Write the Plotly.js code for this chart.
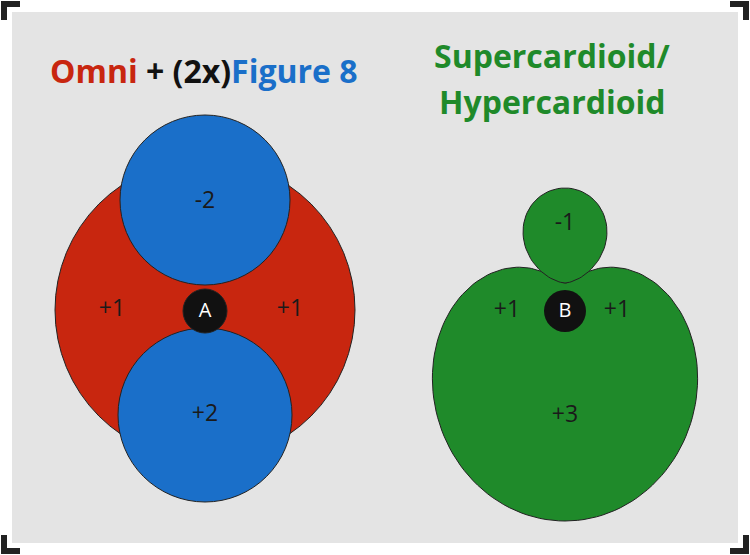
<!DOCTYPE html>
<html>
<head>
<script src="https://cdn.plot.ly/plotly-3.0.1.min.js"></script>
<style>body{margin:0}#chart{width:750px;height:555px}</style>
</head>
<body>
<div id="chart"></div>
<script>
// circles: [cx, cy, r, colour]
var circleX = [205, 205, 205, 205];
var circleY = [310, 200, 415, 311];
var circleR = [150, 85, 87, 22];
var circleC = ['#c8260f', '#1a6fc9', '#1a6fc9', '#111111'];

var labelText = ['-2', '+1', '+1', '+2', '-1', '+1', '+1', '+3'];
var labelX = [205, 112, 290, 205, 565, 507, 617, 565];
var labelY = [202, 310, 310, 415, 224, 311, 311, 416];

// big lobe of the supercardioid: r = a + b cos(t) + c cos(2t), t from straight down
var lobeA = 125.5, lobeB = 91, lobeC = -6.5, squeeze = 0.87;
var bx = 565, by = 311;
var bigX = [], bigY = [];
for (var i = 0; i <= 360; i += 2) {
  var t = i * Math.PI / 180;
  var r = lobeA + lobeB * Math.cos(t) + lobeC * Math.cos(2 * t);
  bigX.push(bx + squeeze * r * Math.sin(t));
  bigY.push(by + r * Math.cos(t));
}
// small rear lobe, tear-drop from the pinch point
var px = 565, py = 283;
var smallX = [], smallY = [];
for (var j = -90; j <= 90; j += 2) {
  var f = j * Math.PI / 180;
  var rs = 95 * Math.pow(Math.cos(f), 1.8);
  smallX.push(px + rs * Math.sin(f) * 1.1);
  smallY.push(py - rs * Math.cos(f));
}

var shapes = [
  {type: 'rect', x0: 12, y0: 12, x1: 738, y1: 543, fillcolor: '#e4e4e4', line: {width: 0}, layer: 'below'}
];
circleX.forEach(function (cx, k) {
  shapes.push({type: 'circle', x0: cx - circleR[k], x1: cx + circleR[k], y0: circleY[k] - circleR[k], y1: circleY[k] + circleR[k],
    fillcolor: circleC[k], line: {color: '#222', width: 1}, layer: 'below'});
});
// corner brackets
[[4, 4, 1, 1], [746, 4, -1, 1], [4, 551, 1, -1], [746, 551, -1, -1]].forEach(function (c) {
  shapes.push({type: 'path', path: 'M' + (c[0] + 16 * c[2]) + ',' + c[1] + ' L' + c[0] + ',' + c[1] + ' L' + c[0] + ',' + (c[1] + 16 * c[3]),
    line: {color: '#222', width: 6}});
});

var traces = [
  {x: bigX, y: bigY, mode: 'lines', fill: 'toself', fillcolor: '#1f8a2a', line: {color: '#222', width: 1}, hoverinfo: 'skip'},
  {x: smallX, y: smallY, mode: 'lines', fill: 'toself', fillcolor: '#1f8a2a', line: {color: '#222', width: 1}, hoverinfo: 'skip'},
  {x: [565], y: [311], mode: 'markers', marker: {size: 42, color: '#111111'}, hoverinfo: 'skip'},
  {x: labelX, y: labelY, mode: 'text', text: labelText, textfont: {family: 'Open Sans', size: 23, color: '#1a1a1a'}, hoverinfo: 'skip'},
  {x: [205, 565], y: [312, 312], mode: 'text', text: ['A', 'B'], textfont: {family: 'Open Sans', size: 20, color: '#ffffff'}, hoverinfo: 'skip'}
];

var titleFont = {family: 'Open Sans', size: 32};
var layout = {
  width: 750, height: 555, margin: {l: 0, r: 0, t: 0, b: 0},
  paper_bgcolor: '#ffffff', plot_bgcolor: 'rgba(0,0,0,0)', showlegend: false,
  xaxis: {range: [0, 750], visible: false, fixedrange: true},
  yaxis: {range: [555, 0], visible: false, fixedrange: true},
  shapes: shapes,
  annotations: [
    {x: 204, y: 70, xref: 'x', yref: 'y', showarrow: false,
      text: '<b><span style="color:#c8260f">Omni</span> <span style="color:#111">+ (2x)</span><span style="color:#1a6fc9">Figure 8</span></b>', font: titleFont},
    {x: 552, y: 55, showarrow: false, text: '<b>Supercardioid/</b>', font: Object.assign({color: '#1f8a2a'}, titleFont)},
    {x: 552, y: 101, showarrow: false, text: '<b>Hypercardioid</b>', font: Object.assign({color: '#1f8a2a'}, titleFont)}
  ]
};
Plotly.newPlot('chart', traces, layout, {staticPlot: true});
</script>
</body>
</html>
